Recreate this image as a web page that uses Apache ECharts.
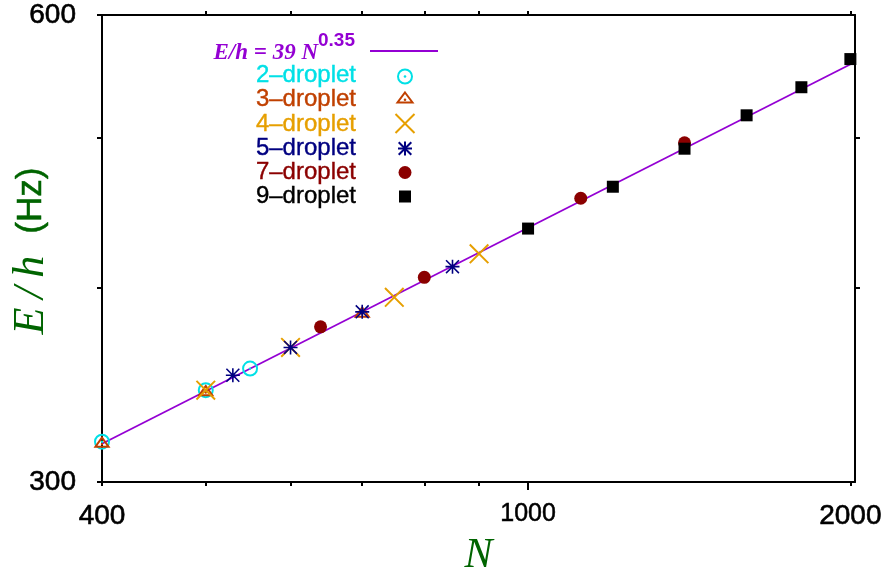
<!DOCTYPE html>
<html>
<head>
<meta charset="utf-8">
<script src="https://cdn.jsdelivr.net/npm/echarts@6/dist/echarts.min.js"></script>
<style>
  html, body { margin: 0; padding: 0; background: #ffffff; }
  #chart { width: 894px; height: 571px; }
</style>
</head>
<body>
<div id="chart"></div>
<script>
// Axis ticks and labels (log-log axes)
const xTickLabels = [400, 1000, 2000];
const xMinorTicks = [500, 600, 700, 800, 900];
const yTickLabels = [300, 600];
const yMinorTicks = [400, 500];

// Power-law fit E/h = 39 N^0.35, straight on log-log axes: end points
const fitN = [400, 2020];
const fitE = [317.5, 559.6];

// Droplet groups: particle number N and energy E/h (Hz)
const n2 = [400, 500, 550];
const e2 = [318.5, 343.8, 355.0];
const n3 = [400, 500, 700];
const e3 = [318.5, 343.8, 386.2];
const n4 = [500, 600, 750, 900];
const e4 = [343.8, 366.3, 394.6, 420.9];
const n5 = [530, 600, 700, 850];
const e5 = [351.5, 366.3, 386.2, 413.0];
const n7 = [640, 800, 1120, 1400];
const e7 = [377.7, 406.5, 457.1, 496.3];
const n9 = [1000, 1200, 1400, 1600, 1800, 2000];
const e9 = [437.0, 465.0, 492.0, 517.0, 539.0, 562.0];

const groupNames = ['2\u2013droplet', '3\u2013droplet', '4\u2013droplet', '5\u2013droplet', '7\u2013droplet', '9\u2013droplet'];
const groupN = [n2, n3, n4, n5, n7, n9];
const groupE = [e2, e3, e4, e5, e7, e9];
const groupColors = ['#00e0e6', '#c04000', '#e69f00', '#000080', '#8b0000', '#000000'];
const fitColor = '#9400d3';
const titleColor = '#006400';

// Marker shapes (filled outlines, so ring/triangle/cross keep their stroke look)
const ringPath = 'M0,80A80,80 0 1,0 160,80A80,80 0 1,0 0,80Z' +
                 'M20,80A60,60 0 1,1 140,80A60,60 0 1,1 20,80Z' +
                 'M68,80A12,12 0 1,0 92,80A12,12 0 1,0 68,80Z';
const triPath = 'M85,0L170,120L0,120Z' +
                'M85,34.6L38.7,100L131.3,100Z' +
                'M73,84A12,12 0 1,0 97,84A12,12 0 1,0 73,84Z';
const crossPath = 'M0,14L14,0L200,186L186,200Z' +
                  'M186,0L200,14L14,200L0,186Z';
const starPath = 'M62,0L78,0L78,140L62,140Z' +
                 'M0,62L140,62L140,78L0,78Z' +
                 'M0,11L11,0L140,129L129,140Z' +
                 'M129,0L140,11L11,140L0,129Z';

const markers = [
  { symbol: 'path://' + ringPath, size: [16, 16] },
  { symbol: 'path://' + triPath, size: [17, 12] },
  { symbol: 'path://' + crossPath, size: [20, 20] },
  { symbol: 'path://' + starPath, size: [14, 14] },
  { symbol: 'circle', size: [13, 13] },
  { symbol: 'rect', size: [12, 12] }
];

const sansFont = '"Liberation Sans", Arial, Helvetica, sans-serif';
const serifFont = '"Liberation Serif", "Times New Roman", serif';

function zip(xs, ys) { return xs.map((x, i) => [x, ys[i]]); }

const series = [{
  type: 'line',
  name: 'fit',
  data: zip(fitN, fitE),
  showSymbol: false,
  symbol: 'none',
  lineStyle: { color: fitColor, width: 1.8 },
  z: 2,
  silent: true
}];
groupNames.forEach((name, i) => {
  series.push({
    type: 'scatter',
    name: name,
    data: zip(groupN[i], groupE[i]),
    symbol: markers[i].symbol,
    symbolSize: markers[i].size,
    itemStyle: { color: groupColors[i], opacity: 1 },
    clip: false,
    z: 3 + i,
    silent: true
  });
});

// Legend key glyphs built from primitive graphic elements
function legendGlyph(i, cx, cy, color) {
  const st = { stroke: color, lineWidth: 2, fill: null };
  switch (i) {
    case 0: return [
      { type: 'ring', shape: { cx: cx, cy: cy, r: 8, r0: 6 }, style: { fill: color } },
      { type: 'circle', shape: { cx: cx, cy: cy, r: 1.3 }, style: { fill: color } }
    ];
    case 1: return [
      { type: 'polygon', shape: { points: [[cx, cy - 5], [cx + 7.5, cy + 5], [cx - 7.5, cy + 5]] }, style: st },
      { type: 'circle', shape: { cx: cx, cy: cy + 2.2, r: 1.3 }, style: { fill: color } }
    ];
    case 2: return [
      { type: 'line', shape: { x1: cx - 9.5, y1: cy - 9.5, x2: cx + 9.5, y2: cy + 9.5 }, style: st },
      { type: 'line', shape: { x1: cx - 9.5, y1: cy + 9.5, x2: cx + 9.5, y2: cy - 9.5 }, style: st }
    ];
    case 3: return [
      { type: 'line', shape: { x1: cx, y1: cy - 7, x2: cx, y2: cy + 7 }, style: st },
      { type: 'line', shape: { x1: cx - 7, y1: cy, x2: cx + 7, y2: cy }, style: st },
      { type: 'line', shape: { x1: cx - 6.3, y1: cy - 6.3, x2: cx + 6.3, y2: cy + 6.3 }, style: st },
      { type: 'line', shape: { x1: cx - 6.3, y1: cy + 6.3, x2: cx + 6.3, y2: cy - 6.3 }, style: st }
    ];
    case 4: return [
      { type: 'circle', shape: { cx: cx, cy: cy, r: 6.5 }, style: { fill: color } }
    ];
    default: return [
      { type: 'rect', shape: { x: cx - 6, y: cy - 6, width: 12, height: 12 }, style: { fill: color } }
    ];
  }
}

const legendTextRight = 356;
const legendMarkX = 405;
const legendRowY = [75, 99.5, 124, 148, 172.5, 196.5];
const legendMarkY = [76.5, 97.5, 123.5, 148.5, 172.5, 196.5];

const graphics = [
  // vertical axis title
  {
    type: 'text', z: 20,
    x: 31, y: 251, rotation: Math.PI / 2,
    style: {
      text: '{i|E\u2009/\u2009h\u2002}{s|(Hz)}',
      align: 'center', verticalAlign: 'middle',
      fill: titleColor,
      rich: {
        i: { fontFamily: serifFont, fontStyle: 'italic', fontSize: 44, fill: titleColor },
        s: { fontFamily: sansFont, fontSize: 35, fill: titleColor, stroke: titleColor, lineWidth: 0.5 }
      }
    }
  },
  {
    type: 'text', z: 20,
    style: { text: 'E/h = 39 N', x: 318, y: 53, align: 'right', verticalAlign: 'middle',
             fill: fitColor, font: 'italic bold 23px ' + serifFont }
  },
  {
    type: 'text', z: 20,
    style: { text: '0.35', x: 318, y: 41, align: 'left', verticalAlign: 'middle',
             fill: fitColor, font: 'bold 19px ' + sansFont }
  },
  {
    type: 'line', z: 20,
    shape: { x1: 370, y1: 51, x2: 438, y2: 51 },
    style: { stroke: fitColor, lineWidth: 1.8 }
  }
];
groupNames.forEach((name, i) => {
  graphics.push({
    type: 'text', z: 20,
    style: { text: name, x: legendTextRight, y: legendRowY[i], align: 'right', verticalAlign: 'middle',
             fill: groupColors[i], font: '24px ' + sansFont,
             stroke: groupColors[i], lineWidth: 0.4 }
  });
  legendGlyph(i, legendMarkX, legendMarkY[i], groupColors[i]).forEach(g => {
    g.z = 20;
    graphics.push(g);
  });
});

const axisLineStyle = { color: '#000000', width: 2 };
const hiddenLabel = { show: false };
const tickText = { color: '#000', fontFamily: sansFont, fontSize: 28, textBorderColor: '#000', textBorderWidth: 0.6 };

const xBase = { type: 'log', logBase: 10, min: 400, max: 2020, gridIndex: 0, splitLine: { show: false } };
const yBase = { type: 'log', logBase: 10, min: 300, max: 600, gridIndex: 0, splitLine: { show: false } };

const option = {
  animation: false,
  backgroundColor: '#ffffff',
  grid: { left: 102, top: 15, width: 753, height: 467, containLabel: false, outerBoundsMode: 'none' },
  xAxis: [
    Object.assign({}, xBase, {
      position: 'bottom',
      name: 'N',
      nameLocation: 'middle',
      nameGap: 44,
      nameTextStyle: { color: titleColor, fontFamily: serifFont, fontStyle: 'italic', fontSize: 42 },
      axisLine: { show: true, lineStyle: axisLineStyle },
      axisTick: { show: true, customValues: [1000], length: 8, inside: false, lineStyle: { width: 2, color: '#000' } },
      axisLabel: Object.assign({}, tickText, {
        show: true, customValues: xTickLabels, margin: 20,
        formatter: v => (Math.abs(v - 1000) < 1e-6 ? '{s|1000}' : String(Math.round(v))),
        rich: { s: { fontSize: 25, fontFamily: sansFont, color: '#000', textBorderColor: '#000', textBorderWidth: 0.5 } }
      })
    }),
    Object.assign({}, xBase, {
      position: 'bottom',
      axisLine: { show: false },
      axisTick: { show: true, customValues: [400].concat(xMinorTicks, [2000]), length: 4, lineStyle: { width: 2, color: '#000' } },
      axisLabel: hiddenLabel
    }),
    Object.assign({}, xBase, {
      position: 'top',
      axisLine: { show: true, lineStyle: axisLineStyle },
      axisTick: { show: true, customValues: xMinorTicks.concat([1000, 2000]), length: 4, lineStyle: { width: 2, color: '#000' } },
      axisLabel: hiddenLabel
    })
  ],
  yAxis: [
    Object.assign({}, yBase, {
      position: 'left',
      axisLine: { show: true, lineStyle: axisLineStyle },
      axisTick: { show: true, customValues: [300].concat(yMinorTicks, [600]), length: 5, lineStyle: { width: 2, color: '#000' } },
      axisLabel: Object.assign({}, tickText, {
        show: true, customValues: yTickLabels, margin: 26,
        formatter: v => String(Math.round(v))
      })
    }),
    Object.assign({}, yBase, {
      position: 'right',
      axisLine: { show: true, lineStyle: axisLineStyle },
      axisTick: { show: true, customValues: yMinorTicks, length: 5, lineStyle: { width: 2, color: '#000' } },
      axisLabel: hiddenLabel
    })
  ],
  series: series,
  graphic: graphics
};

const chart = echarts.init(document.getElementById('chart'), null, { renderer: 'canvas' });
chart.setOption(option);
</script>
</body>
</html>
